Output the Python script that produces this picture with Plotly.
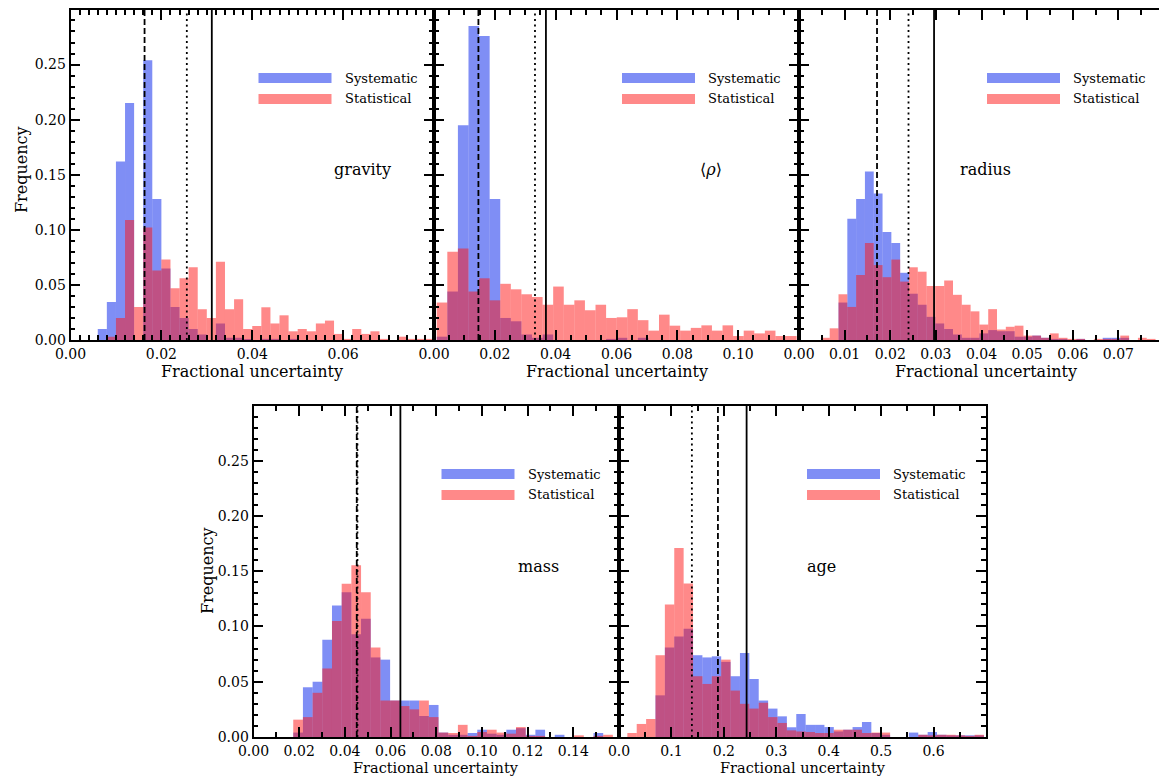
import numpy as np
import plotly.graph_objects as go

# ---------------- data ----------------
# gravity
gravity_bin_start = 0.006
gravity_bin_width = 0.002
gravity_systematic = [0.010, 0.0345, 0.162, 0.215, 0.0, 0.254, 0.128, 0.065, 0.030, 0.020,
                      0.010, 0.005, 0.0, 0.015, 0.002, 0.002, 0.001, 0.0, 0.001, 0.001,
                      0.0, 0.001, 0.0, 0.0, 0.0, 0.0, 0.0, 0.0, 0.0, 0.0,
                      0.0, 0.0, 0.0, 0.0, 0.0, 0.0, 0.0]
gravity_statistical = [0.0, 0.003, 0.020, 0.109, 0.030, 0.102, 0.063, 0.073, 0.047, 0.056,
                       0.066, 0.028, 0.020, 0.071, 0.028, 0.037, 0.010, 0.0127, 0.0297, 0.015,
                       0.0224, 0.0079, 0.010, 0.0079, 0.015, 0.0176, 0.0055, 0.001, 0.010, 0.0055,
                       0.0079, 0.001, 0.0, 0.003, 0.001, 0.001, 0.001]
gravity_vlines = [0.0163, 0.0256, 0.0311]   # dashed, dotted, solid

# mean density
density_bin_start = 0.0009
density_bin_width = 0.00348
density_systematic = [0.003, 0.044, 0.195, 0.285, 0.276, 0.128, 0.020, 0.017, 0.005, 0.002,
                      0.005, 0.0, 0.0, 0.0, 0.0, 0.0, 0.001, 0.002, 0.0, 0.002,
                      0.0, 0.0, 0.0, 0.0, 0.0, 0.0, 0.0, 0.0, 0.0, 0.0,
                      0.0, 0.0, 0.0, 0.0]
density_statistical = [0.034, 0.080, 0.083, 0.044, 0.056, 0.036, 0.051, 0.046, 0.0415, 0.039,
                       0.032, 0.0485, 0.032, 0.036, 0.027, 0.032, 0.020, 0.0206, 0.028, 0.018,
                       0.0085, 0.023, 0.013, 0.0085, 0.011, 0.0133, 0.0085, 0.0133, 0.0036, 0.0085,
                       0.006, 0.0085, 0.0036, 0.0036]
density_vlines = [0.0146, 0.0332, 0.0368]

# radius
radius_bin_start = 0.0048
radius_bin_width = 0.00193
radius_systematic = [0.0, 0.0, 0.034, 0.110, 0.128, 0.153, 0.133, 0.098, 0.088, 0.061,
                     0.042, 0.032, 0.021, 0.015, 0.010, 0.005, 0.002, 0.002, 0.006, 0.009,
                     0.008, 0.008, 0.003, 0.003, 0.004, 0.002, 0.001, 0.001, 0.0, 0.001,
                     0.0, 0.0, 0.002, 0.002, 0.002, 0.0, 0.0, 0.0]
radius_statistical = [0.002, 0.0106, 0.0415, 0.030, 0.059, 0.088, 0.068, 0.057, 0.073, 0.053,
                      0.066, 0.062, 0.049, 0.049, 0.054, 0.041, 0.032, 0.026, 0.014, 0.028,
                      0.0095, 0.012, 0.013, 0.004, 0.004, 0.002, 0.006, 0.002, 0.001, 0.001,
                      0.0, 0.001, 0.001, 0.001, 0.004, 0.0, 0.002, 0.001]
radius_vlines = [0.0171, 0.0240, 0.0296]

# mass
mass_bin_start = 0.0174
mass_bin_width = 0.00424
mass_systematic = [0.004, 0.045, 0.050, 0.088, 0.119, 0.131, 0.093, 0.107, 0.072, 0.070,
                   0.033, 0.033, 0.033, 0.019, 0.029, 0.004, 0.002, 0.002, 0.0036, 0.0066,
                   0.003, 0.002, 0.0066, 0.008, 0.002, 0.0066, 0.0, 0.002, 0.0, 0.0,
                   0.0, 0.0036, 0.0]
mass_statistical = [0.0157, 0.018, 0.040, 0.062, 0.105, 0.1386, 0.1555, 0.131, 0.081, 0.033,
                    0.033, 0.028, 0.025, 0.033, 0.018, 0.004, 0.0036, 0.011, 0.001, 0.0045,
                    0.0066, 0.004, 0.003, 0.009, 0.001, 0.001, 0.0, 0.0, 0.0, 0.0015,
                    0.0, 0.001, 0.002]
mass_vlines = [0.0452, 0.0455, 0.0643]

# age
age_bin_start = 0.0159
age_bin_width = 0.0179
age_systematic = [0.0, 0.0, 0.0, 0.0377, 0.081, 0.091, 0.098, 0.074, 0.072, 0.073,
                  0.068, 0.055, 0.076, 0.0525, 0.033, 0.0257, 0.0187, 0.0088, 0.0208, 0.011,
                  0.011, 0.009, 0.005, 0.0066, 0.009, 0.0136, 0.0036, 0.002, 0.0, 0.0,
                  0.004, 0.002, 0.0045, 0.002, 0.0015, 0.0015, 0.0015, 0.0015]
age_statistical = [0.0036, 0.0118, 0.0163, 0.074, 0.120, 0.171, 0.139, 0.055, 0.048, 0.055,
                   0.070, 0.042, 0.030, 0.0257, 0.031, 0.018, 0.0127, 0.006, 0.005, 0.0045,
                   0.0036, 0.0036, 0.0066, 0.0066, 0.0066, 0.0036, 0.004, 0.004, 0.0, 0.0,
                   0.0, 0.002, 0.0015, 0.002, 0.002, 0.0015, 0.001, 0.002]
age_vlines = [0.1887, 0.139, 0.2434]

series_names = ["Systematic", "Statistical"]
panel_labels = ["gravity", "⟨<i>ρ</i>⟩", "radius", "mass", "age"]
x_title = "Fractional uncertainty"
y_title = "Frequency"

# ---------------- layout / style ----------------
W, H = 1159, 777
FONT = "DejaVu Serif"
BLUE = "rgba(0,30,235,0.5)"
RED = "rgba(255,20,20,0.5)"

def px(x):
    return x / W

def py(y):
    return 1 - y / H

# panel pixel boxes: left, right, top, bottom
panels = [
    dict(box=(70.5, 434, 10, 340), xr=[0, 0.08], dt=0.02, mdt=0.002, fmt=".2f", hide="0.08",
         start=gravity_bin_start, width=gravity_bin_width,
         sys=gravity_systematic, stat=gravity_statistical, vl=gravity_vlines,
         ylab=True, label_xy=(362, 170)),
    dict(box=(434, 799, 10, 340), xr=[0, 0.12], dt=0.02, mdt=0.005, fmt=".2f", hide="0.12",
         start=density_bin_start, width=density_bin_width,
         sys=density_systematic, stat=density_statistical, vl=density_vlines,
         ylab=False, label_xy=(711, 170)),
    dict(box=(799, 1159, 10, 340), xr=[0, 0.0789], dt=0.01, mdt=0.005, fmt=".2f", hide=None,
         start=radius_bin_start, width=radius_bin_width,
         sys=radius_systematic, stat=radius_statistical, vl=radius_vlines,
         ylab=False, label_xy=(985, 170), cut=True),
    dict(box=(253.5, 619, 406, 737), xr=[0, 0.16], dt=0.02, mdt=0.01, fmt=".2f", hide="0.16",
         start=mass_bin_start, width=mass_bin_width,
         sys=mass_systematic, stat=mass_statistical, vl=mass_vlines,
         ylab=True, label_xy=(538, 566)),
    dict(box=(619, 986, 406, 737), xr=[0, 0.70], dt=0.1, mdt=0.05, fmt=".1f", hide="0.7",
         start=age_bin_start, width=age_bin_width,
         sys=age_systematic, stat=age_statistical, vl=age_vlines,
         ylab=False, label_xy=(821, 566)),
]

fig = go.Figure()
shapes = []
annotations = []
layout_axes = {}

for i, p in enumerate(panels, start=1):
    xa = "x" if i == 1 else f"x{i}"
    ya = "y" if i == 1 else f"y{i}"
    n = len(p["sys"])
    centers = p["start"] + p["width"] * (np.arange(n) + 0.5)
    for vals, col, name in ((p["sys"], BLUE, series_names[0]), (p["stat"], RED, series_names[1])):
        fig.add_trace(go.Bar(x=centers, y=vals, width=p["width"], marker=dict(color=col, line=dict(width=0)),
                             xaxis=xa, yaxis=ya, name=name, showlegend=False))
    l, r, t, b = p["box"]
    tickfont = dict(family=FONT, size=14, color="black")
    alias = {p["hide"]: " "} if p["hide"] else {}
    layout_axes["xaxis" if i == 1 else f"xaxis{i}"] = dict(
        domain=[px(l), px(r)], range=p["xr"], anchor=ya, showline=True, linecolor="black",
        linewidth=1.8, mirror="allticks", ticks="inside", ticklen=10, tickwidth=2,
        tickcolor="black", tick0=0, dtick=p["dt"], tickformat=p["fmt"], showgrid=False,
        zeroline=False, tickfont=tickfont, automargin=False, labelalias=alias,
        layer="above traces",
        minor=dict(ticks="inside", ticklen=5, tickwidth=1.6, tickcolor="black", dtick=p["mdt"], tick0=0))
    layout_axes["yaxis" if i == 1 else f"yaxis{i}"] = dict(
        domain=[py(b), py(t)], range=[0, 0.2995], anchor=xa, showline=True, linecolor="black",
        linewidth=1.8, mirror=(False if p.get("cut") else "allticks"), ticks="inside", ticklen=10,
        tickwidth=2, tickcolor="black", tick0=0, dtick=0.05, tickformat=".2f",
        showticklabels=p["ylab"], showgrid=False, zeroline=False, tickfont=tickfont, automargin=False,
        layer="above traces",
        minor=dict(ticks="inside", ticklen=5, tickwidth=1.6, tickcolor="black", dtick=0.01, tick0=0))

    # vertical reference lines: dashed, dotted, solid
    for val, dash in zip(p["vl"], ["6px,3px", "2px,3.5px", "solid"]):
        shapes.append(dict(type="line", xref=xa, yref=f"{ya} domain", x0=val, x1=val, y0=0, y1=1,
                           line=dict(color="black", width=1.8, dash=dash), layer="above"))

    # legend swatches + texts
    sx = l + 188
    for k, (col, name) in enumerate(((BLUE, series_names[0]), (RED, series_names[1]))):
        y0 = t + 63 + 21 * k
        shapes.append(dict(type="rect", xref="paper", yref="paper", x0=px(sx), x1=px(sx + 73),
                           y0=py(y0 + 10), y1=py(y0), fillcolor=col, line=dict(width=0), layer="above"))
        annotations.append(dict(x=px(sx + 84), y=py(y0 + 5), xref="paper", yref="paper", text=name,
                                showarrow=False, xanchor="left", yanchor="middle",
                                font=dict(family=FONT, size=13, color="black")))

    # panel label
    lx, ly = p["label_xy"]
    annotations.append(dict(x=px(lx), y=py(ly), xref="paper", yref="paper", text=panel_labels[i - 1],
                            showarrow=False, xanchor="center", yanchor="middle",
                            font=dict(family=FONT, size=16, color="black")))
    # x title
    xc = 986 if p.get("cut") else (l + r) / 2
    bottom_row = b > 500
    annotations.append(dict(x=px(xc), y=py(b + (30.5 if bottom_row else 32)), xref="paper", yref="paper",
                            text=x_title, showarrow=False, xanchor="center", yanchor="middle",
                            font=dict(family=FONT, size=(14.5 if bottom_row else 16), color="black")))

# y titles
for (yx, yy) in ((22, 170), (207, 571)):
    annotations.append(dict(x=px(yx), y=py(yy), xref="paper", yref="paper", text=y_title,
                            showarrow=False, textangle=-90, xanchor="center", yanchor="middle",
                            font=dict(family=FONT, size=16, color="black")))

fig.update_layout(
    width=W, height=H, margin=dict(l=0, r=0, t=0, b=0, pad=0, autoexpand=False),
    paper_bgcolor="white", plot_bgcolor="white", barmode="overlay",
    showlegend=False, shapes=shapes, annotations=annotations,
    font=dict(family=FONT, color="black"), **layout_axes)

fig.write_html("out.html")
